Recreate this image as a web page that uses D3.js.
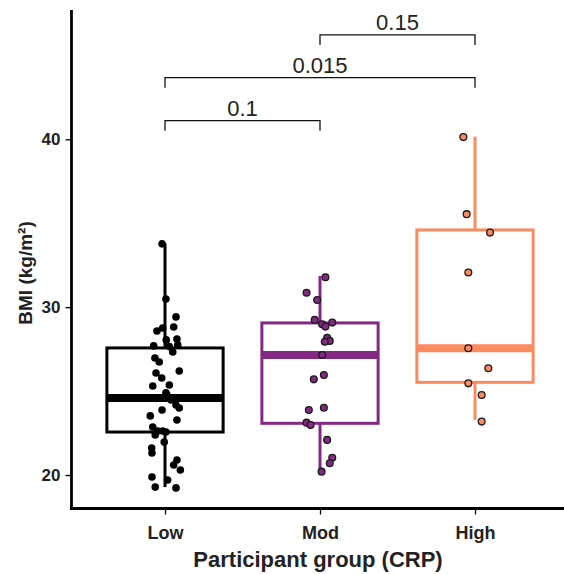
<!DOCTYPE html>
<html><head><meta charset="utf-8">
<script src="https://cdn.jsdelivr.net/npm/d3@7"></script>
<style>html,body{margin:0;padding:0;background:#fff;}svg{display:block;}</style>
</head><body>
<script>
const groups = ["Low", "Mod", "High"];
const groupColors = ["#000000", "#832883", "#FB8A5F"];
const yTicks = [20, 30, 40];

// box statistics: lower whisker, q1, median, q3, upper whisker
const whiskerLow = [19.28, 20.2, 23.28];
const q1 = [22.56, 23.08, 25.52];
const median = [24.59, 27.15, 27.55];
const q3 = [27.57, 29.06, 34.6];
const whiskerHigh = [33.8, 31.86, 40.16];

// individual observations (BMI) and horizontal jitter (fraction of group step)
const lowBMI = [33.77,30.49,29.42,28.82,28.76,28.58,28.10,28.05,27.69,27.65,27.75,27.33,26.97,26.73,26.20,26.08,25.78,25.30,25.36,24.89,24.77,24.59,24.47,24.17,23.99,23.87,23.52,23.28,22.86,22.62,22.62,22.56,22.38,21.97,21.61,21.31,20.89,20.60,20.30,19.88,19.70,19.28,19.23];
const lowJitter = [-0.019,0.006,0.071,0.056,-0.015,-0.052,0.077,0.008,-0.073,0.028,0.082,0.050,-0.065,-0.037,0.092,-0.058,-0.021,-0.079,0.028,0.006,0.013,0.052,0.039,0.071,0.092,-0.019,-0.095,0.077,-0.079,-0.047,-0.015,0.006,-0.063,-0.005,-0.086,-0.084,0.077,0.056,0.099,-0.084,0.017,-0.063,0.071];
const modBMI = [31.78,30.86,30.43,29.24,28.98,28.84,29.08,28.18,27.99,27.94,27.15,25.96,25.70,23.87,24.01,23.12,22.98,22.09,21.03,20.70,20.20];
const modJitter = [0.035,-0.087,-0.018,-0.034,0.014,0.035,0.079,0.046,0.063,0.031,0.014,0.025,-0.040,-0.072,0.025,-0.087,-0.061,0.046,0.079,0.063,0.010];
const highBMI = [40.13,35.54,34.44,32.06,27.55,26.36,25.46,24.77,23.18];
const highJitter = [-0.075,-0.054,0.097,-0.043,-0.043,0.086,-0.043,0.043,0.043];

// pairwise comparisons: [from, to, p-value label, bracket height in BMI units]
const compFrom = ["Low", "Low", "Mod"];
const compTo = ["Mod", "High", "High"];
const compLabel = ["0.1", "0.015", "0.15"];
const compY = [41.11, 43.67, 46.22];

const W = 564, H = 574;
const svg = d3.select("body").append("svg").attr("width", W).attr("height", H);

const x = d3.scalePoint().domain(groups).range([72, 568]).padding(0.6);
const step = x.step();
const y = d3.scaleLinear().domain([20, 40]).range([475, 139.3]);
const boxW = step * 0.75;

const obs = [];
[[lowBMI, lowJitter], [modBMI, modJitter], [highBMI, highJitter]].forEach(([vals, jit], gi) => {
  vals.forEach((v, i) => obs.push({ g: groups[gi], gi, v, j: jit[i] }));
});

// boxes
const boxes = svg.append("g");
groups.forEach((g, i) => {
  const cx = x(g), col = groupColors[i];
  const gg = boxes.append("g").attr("stroke", col).attr("fill", "none");
  gg.append("line").attr("x1", cx).attr("x2", cx).attr("y1", y(q3[i])).attr("y2", y(whiskerHigh[i])).attr("stroke-width", 3);
  gg.append("line").attr("x1", cx).attr("x2", cx).attr("y1", y(q1[i])).attr("y2", y(whiskerLow[i])).attr("stroke-width", 3);
  gg.append("rect").attr("x", cx - boxW / 2).attr("width", boxW)
    .attr("y", y(q3[i])).attr("height", y(q1[i]) - y(q3[i])).attr("stroke-width", 3);
  gg.append("line").attr("x1", cx - boxW / 2).attr("x2", cx + boxW / 2)
    .attr("y1", y(median[i])).attr("y2", y(median[i])).attr("stroke-width", 8);
});

// points
svg.append("g").selectAll("circle").data(obs).join("circle")
  .attr("cx", d => x(d.g) + d.j * step)
  .attr("cy", d => y(d.v))
  .attr("r", d => d.gi === 0 ? 3.8 : 3.4)
  .attr("fill", d => groupColors[d.gi])
  .attr("stroke", "#1a1a1a")
  .attr("stroke-width", d => d.gi === 0 ? 0 : 1.3);

// axes
const axisColor = "#000";
const yAxis = svg.append("g").attr("transform", "translate(71.5,0)")
  .call(d3.axisLeft(y).tickValues(yTicks).tickSize(6).tickPadding(5));
yAxis.select(".domain").remove();
yAxis.selectAll(".tick line").attr("stroke", axisColor).attr("stroke-width", 1.3);
yAxis.selectAll(".tick text").attr("font-family", "Liberation Sans, Arial, sans-serif")
  .attr("font-weight", "bold").attr("font-size", 17).attr("fill", "#222");
svg.append("line").attr("x1", 71.5).attr("x2", 71.5).attr("y1", 10).attr("y2", 510)
  .attr("stroke", axisColor).attr("stroke-width", 2.8);

const xAxis = svg.append("g").attr("transform", "translate(0,508.5)")
  .call(d3.axisBottom(x).tickSize(6).tickPadding(12));
xAxis.select(".domain").remove();
xAxis.selectAll(".tick line").attr("stroke", axisColor).attr("stroke-width", 1.3);
xAxis.selectAll(".tick text").attr("font-family", "Liberation Sans, Arial, sans-serif")
  .attr("font-weight", "bold").attr("font-size", 18).attr("fill", "#222");
svg.append("line").attr("x1", 70).attr("x2", 564).attr("y1", 508.5).attr("y2", 508.5)
  .attr("stroke", axisColor).attr("stroke-width", 2.8);

// axis titles
svg.append("text").attr("x", 318).attr("y", 567).attr("text-anchor", "middle")
  .attr("font-family", "Liberation Sans, Arial, sans-serif").attr("font-weight", "bold")
  .attr("font-size", 22).attr("fill", "#222").text("Participant group (CRP)");
svg.append("text").attr("transform", "translate(32,273) rotate(-90)").attr("text-anchor", "middle")
  .attr("font-family", "Liberation Sans, Arial, sans-serif").attr("font-weight", "bold")
  .attr("font-size", 19).attr("fill", "#222").text("BMI (kg/m²)");

// comparison brackets
const br = svg.append("g");
compLabel.forEach((lab, i) => {
  const x1 = x(compFrom[i]), x2 = x(compTo[i]), yy = y(compY[i]), drop = y(compY[i] - 0.6) - yy;
  br.append("path").attr("d", `M${x1},${yy + drop}V${yy}H${x2}V${yy + drop}`)
    .attr("fill", "none").attr("stroke", "#111").attr("stroke-width", 1.3);
  br.append("text").attr("x", (x1 + x2) / 2).attr("y", yy - 5).attr("text-anchor", "middle")
    .attr("font-family", "Liberation Sans, Arial, sans-serif").attr("font-size", 22)
    .attr("fill", "#222").text(lab);
});
</script>
</body></html>
